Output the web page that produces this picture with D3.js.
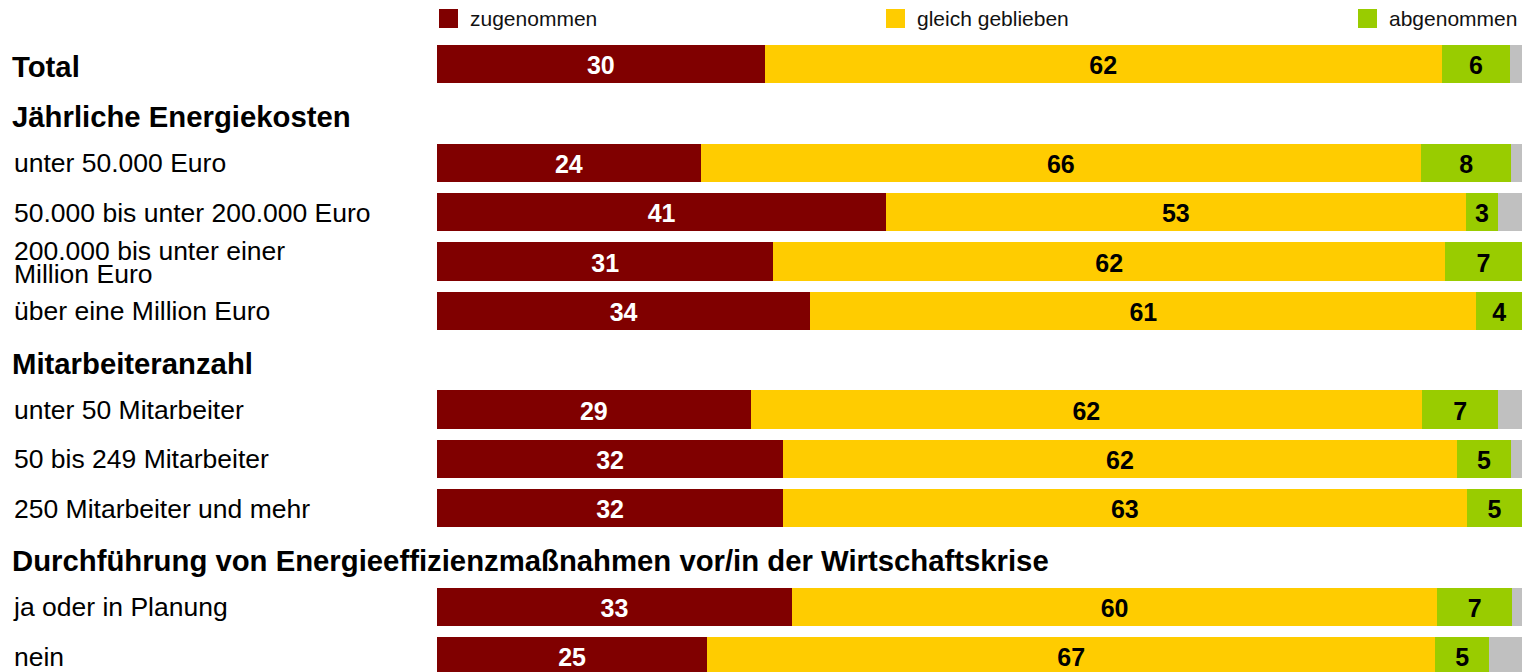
<!DOCTYPE html>
<html>
<head>
<meta charset="utf-8">
<script src="https://cdn.jsdelivr.net/npm/d3@7"></script>
<style>
  body { margin: 0; background: #fff; }
  svg { font-family: "Liberation Sans", Arial, sans-serif; }
</style>
</head>
<body>
<div id="chart"></div>
<script>
// Zeilen (Reihenfolge von oben nach unten), Überschriften ohne Balken
const rowLabels = [
    "Total",
    "Jährliche Energiekosten",
    "unter 50.000 Euro",
    "50.000 bis unter 200.000 Euro",
    "200.000 bis unter einer\nMillion Euro",
    "über eine Million Euro",
    "Mitarbeiteranzahl",
    "unter 50 Mitarbeiter",
    "50 bis 249 Mitarbeiter",
    "250 Mitarbeiter und mehr",
    "Durchführung von Energieeffizienzmaßnahmen vor/in der Wirtschaftskrise",
    "ja oder in Planung",
    "nein"
];
const headerRows = ["Total", "Jährliche Energiekosten", "Mitarbeiteranzahl",
    "Durchführung von Energieeffizienzmaßnahmen vor/in der Wirtschaftskrise"];

// Anteile in Prozent (null = Überschrift)
const zugenommen      = [30.2, null, 24.3, 41.4, 31.0, 34.4, null, 28.9, 31.9, 31.9, null, 32.7, 24.9];
const gleichGeblieben = [62.4, null, 66.4, 53.4, 61.9, 61.4, null, 61.9, 62.1, 63.0, null, 59.5, 67.1];
const abgenommen      = [6.3,  null, 8.3,  3.0,  7.1,  4.2,  null, 7.0,  5.0,  5.1,  null, 6.9,  5.0];
const keineAngabe     = [1.1,  null, 1.0,  2.2,  0.0,  0.0,  null, 2.2,  1.0,  0.0,  null, 0.9,  3.0];

const seriesKeys = ["zugenommen", "gleich geblieben", "abgenommen", "keine Angabe"];
const legendKeys = ["zugenommen", "gleich geblieben", "abgenommen"];

{
    const width = 1526;
    const height = 672;

    const svg = d3.select('#chart')
        .append('svg')
        .attr('width', width)
        .attr('height', height);

    // Tabelle für d3.stack
    const table = rowLabels.map((r, i) => ({
        row: r,
        "zugenommen": zugenommen[i],
        "gleich geblieben": gleichGeblieben[i],
        "abgenommen": abgenommen[i],
        "keine Angabe": keineAngabe[i]
    }));
    const barRows = table.filter(d => d.zugenommen !== null);

    //Scales
    const x = d3.scaleLinear()
        .domain([0, 100])
        .range([437, 1522]);

    const y = d3.scaleBand()
        .domain(rowLabels)
        .range([45, 675.5])
        .paddingInner(0.22)
        .paddingOuter(0);

    const color = d3.scaleOrdinal()
        .domain(seriesKeys)
        .range(["#800000", "#FFCC00", "#99CC00", "#C0C0C0"]);

    const textColor = d3.scaleOrdinal()
        .domain(seriesKeys)
        .range(["#ffffff", "#000000", "#000000", "#000000"]);

    const stacked = d3.stack().keys(seriesKeys)(barRows);

    /*#### Bars ####*/
    const layers = svg.append('g')
        .selectAll('g')
        .data(stacked)
        .join('g')
        .attr('fill', d => color(d.key));

    layers.selectAll('rect')
        .data(d => d)
        .join('rect')
        .attr('x', d => x(d[0]))
        .attr('y', d => y(d.data.row))
        .attr('width', d => x(d[1]) - x(d[0]))
        .attr('height', y.bandwidth())
        .attr('shape-rendering', 'crispEdges');

    // Werte
    stacked.filter(s => s.key !== "keine Angabe").forEach(s => {
        svg.append('g')
            .selectAll('text')
            .data(s)
            .join('text')
            .attr('x', d => (x(d[0]) + x(d[1])) / 2)
            .attr('y', d => y(d.data.row) + y.bandwidth() / 2 + 1)
            .attr('dy', '0.36em')
            .attr('text-anchor', 'middle')
            .style('font-size', '25px')
            .style('font-weight', 'bold')
            .style('fill', textColor(s.key))
            .text(d => Math.round(d[1] - d[0]));
    });

    /*#### Row labels ####*/
    const isHead = d => headerRows.includes(d);
    const labels = svg.append('g')
        .selectAll('text')
        .data(rowLabels)
        .join('text')
        .attr('x', d => isHead(d) ? 12 : 14)
        .attr('y', d => y(d) + y.bandwidth() / 2 + (isHead(d) ? (d === "Total" ? 2 : 3) : 0))
        .style('font-size', d => isHead(d) ? '29.3px' : '26.5px')
        .style('font-weight', d => isHead(d) ? 'bold' : 'normal')
        .style('fill', '#000');

    labels.each(function(d) {
        const lines = d.split("\n");
        const t = d3.select(this);
        const fs = isHead(d) ? 29 : 26.5;
        const lh = 23;
        lines.forEach((line, i) => {
            t.append('tspan')
                .attr('x', t.attr('x'))
                .attr('dy', i === 0 ? ((0.36 * fs) - (lines.length - 1) * lh / 2) + 'px' : lh + 'px')
                .text(line);
        });
    });

    /*#### Legend ####*/
    const legendX = [439, 886, 1358];
    const legend = svg.append('g')
        .selectAll('g')
        .data(legendKeys)
        .join('g')
        .attr('transform', (d, i) => 'translate(' + legendX[i] + ',9)');

    legend.append('rect')
        .attr('width', 19)
        .attr('height', 19)
        .attr('fill', d => color(d));

    legend.append('text')
        .attr('x', 31)
        .attr('y', 10)
        .attr('dy', '0.34em')
        .style('font-size', '21px')
        .style('fill', '#111')
        .text(d => d);
}
</script>
</body>
</html>
